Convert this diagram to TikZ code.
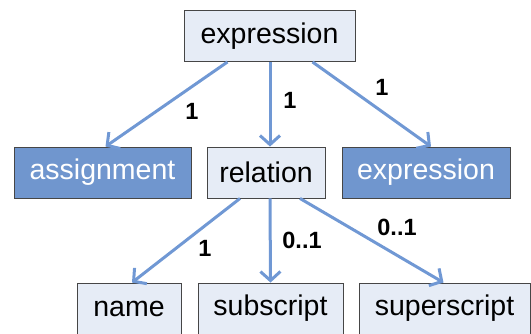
\documentclass[tikz,border=0pt]{standalone}
\usepackage{fontspec}
\setmainfont{Liberation Sans}
\usetikzlibrary{arrows.meta}
\definecolor{boxlight}{RGB}{230,236,246}
\definecolor{boxdark}{RGB}{112,150,206}
\definecolor{linkblue}{RGB}{112,152,212}
\definecolor{frame}{RGB}{70,70,70}
\begin{document}
\begin{tikzpicture}[x=1pt,y=-1pt,
  elem/.style={draw=frame, line width=0.9pt, fill=boxlight, minimum height=51pt, inner sep=0pt,
    font=\fontsize{28.5}{32}\selectfont},
  attr/.style={elem, fill=boxdark, text=white},
  link/.style={draw=linkblue, line width=3pt, -{Straight Barb[length=9pt,width=20pt]}},
  mult/.style={font=\fontsize{23.5}{26}\selectfont\bfseries, inner sep=0pt}]
\useasboundingbox (0,0) rectangle (531,333);
\node[elem, minimum width=171pt] (expr) at (269.5,36) {expression};
\node[attr, minimum width=177pt] (assign) at (102.5,172.5) {assignment};
\node[elem, minimum width=118pt] (rel) at (266,172.5) {relation};
\node[attr, minimum width=168pt] (rhs) at (426,172.5) {expression};
\node[elem, minimum width=104pt] (name) at (129,308.5) {name};
\node[elem, minimum width=145pt] (sub) at (270.5,308.5) {subscript};
\node[elem, minimum width=171pt] (sup) at (444.5,308.5) {superscript};

\draw[link] ([xshift=-42pt]expr.south) -- ([xshift=3pt]assign.north);
\draw[link] ([xshift=0.5pt]expr.south) -- ([xshift=4pt]rel.north);
\draw[link] ([xshift=43pt]expr.south) -- ([xshift=5pt]rhs.north);
\draw[link] ([xshift=-26pt]rel.south) -- ([xshift=3pt]name.north);
\draw[link] ([xshift=4pt]rel.south) -- (sub.north);
\draw[link] ([xshift=34pt]rel.south) -- ([xshift=-1pt]sup.north);

\node[mult] (m1) at (192,111) {1};
\node[mult] (m2) at (290,100) {1};
\node[mult] (m3) at (382,87) {1};
\node[mult] (m4) at (205,248) {1};
\node[mult] (m5) at (302,240) {0..1};
\node[mult] (m6) at (397,227) {0..1};
\end{tikzpicture}
\end{document}
